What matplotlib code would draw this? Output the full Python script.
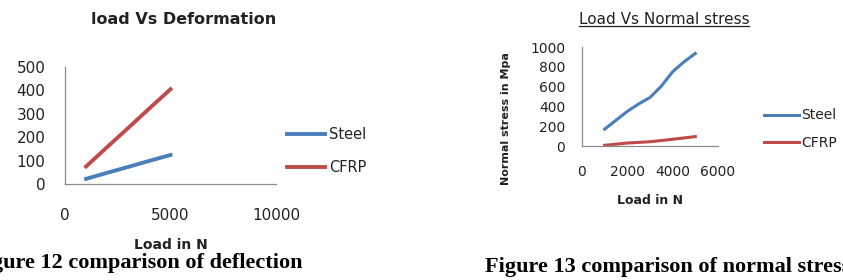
import matplotlib
matplotlib.use('Agg')
import matplotlib.pyplot as plt
from matplotlib.lines import Line2D

W, H = 843, 280

# figure 12: load vs deformation
load_def = [1000, 2000, 3000, 4000, 5000]
steel_def = [22, 48, 73, 99, 124]
cfrp_def = [75, 158, 240, 323, 405]

# figure 13: load vs normal stress
load_str = [1000, 1500, 2000, 2500, 3000, 3500, 4000, 4500, 5000]
steel_str = [170, 260, 350, 425, 490, 605, 750, 850, 935]
load_str_c = [1000, 2000, 3000, 4000, 5000]
cfrp_str = [7, 30, 43, 68, 95]

BLUE = '#4a7ebb'
RED = '#be4b48'
SPINE = '#8c8c8c'
TXT = '#222222'
plt.rcParams['font.family'] = ['DejaVu Sans']

fig = plt.figure(figsize=(W / 100, H / 100), dpi=100)


def px_axes(left, top, right, bottom):
    return fig.add_axes([left / W, 1 - bottom / H, (right - left) / W, (bottom - top) / H])


def style(ax, fs, xpad, ypad):
    for s in ['top', 'right']:
        ax.spines[s].set_visible(False)
    for s in ['left', 'bottom']:
        ax.spines[s].set_color(SPINE)
        ax.spines[s].set_linewidth(0.9)
    ax.tick_params(axis='x', length=0, pad=xpad, labelsize=fs, labelcolor=TXT)
    ax.tick_params(axis='y', length=0, pad=ypad, labelsize=fs, labelcolor=TXT)


# ---- left chart
ax1 = px_axes(65, 67, 276, 184)
ax1.plot(load_def, steel_def, color=BLUE, lw=2.8, label='Steel')
ax1.plot(load_def, cfrp_def, color=RED, lw=2.8, label='CFRP')
ax1.set_xlim(0, 10000)
ax1.set_ylim(0, 500)
ax1.set_xticks([0, 5000, 10000])
ax1.set_yticks(range(0, 501, 100))
style(ax1, 11, 17, 14)
ax1.legend(loc='center left', bbox_to_anchor=(287 / W, 1 - 151 / H), bbox_transform=fig.transFigure,
           frameon=False, fontsize=10.5, handlelength=2.6, handletextpad=0.3, labelspacing=1.2,
           borderpad=0, borderaxespad=0, labelcolor=TXT)
fig.text(184 / W, 1 - 20 / H, 'load Vs Deformation', ha='center', va='center',
         fontsize=11.5, fontweight='bold', color=TXT)
fig.text(171 / W, 1 - 245 / H, 'Load in N', ha='center', va='center',
         fontsize=10, fontweight='bold', color=TXT)
fig.text(302 / W, 1 - 263 / H, 'Figure 12 comparison of deflection', ha='right', va='center',
         fontsize=16, fontweight='bold', family='Liberation Serif', color='black')

# ---- right chart
ax2 = px_axes(582, 47, 718, 146)
ax2.plot(load_str, steel_str, color=BLUE, lw=2.2, label='Steel')
ax2.plot(load_str_c, cfrp_str, color=RED, lw=2.2, label='CFRP')
ax2.set_xlim(0, 6000)
ax2.set_ylim(0, 1000)
ax2.set_xticks(range(0, 6001, 2000))
ax2.set_yticks(range(0, 1001, 200))
style(ax2, 10, 14, 12)
ax2.legend(loc='center left', bbox_to_anchor=(764 / W, 1 - 129 / H), bbox_transform=fig.transFigure,
           frameon=False, fontsize=10, handlelength=2.5, handletextpad=0.2, labelspacing=0.95,
           borderpad=0, borderaxespad=0, labelcolor=TXT)
t = fig.text(664 / W, 1 - 19 / H, 'Load Vs Normal stress', ha='center', va='center',
             fontsize=11, color=TXT)
fig.text(506 / W, 1 - 119 / H, 'Normal stress in Mpa', ha='center', va='center', rotation=90,
         fontsize=8, fontweight='bold', color=TXT)
fig.text(650 / W, 1 - 201 / H, 'Load in N', ha='center', va='center',
         fontsize=9, fontweight='bold', color=TXT)
fig.text(485 / W, 1 - 267 / H, 'Figure 13 comparison of normal stress', ha='left', va='center',
         fontsize=16, fontweight='bold', family='Liberation Serif', color='black')

# underline the right title
bb = t.get_window_extent(renderer=fig.canvas.get_renderer())
fig.add_artist(Line2D([bb.x0 / W, bb.x1 / W], [1 - 26 / H, 1 - 26 / H],
                      transform=fig.transFigure, color=TXT, lw=0.9))

fig.savefig('out.png', dpi=100, facecolor='white')
